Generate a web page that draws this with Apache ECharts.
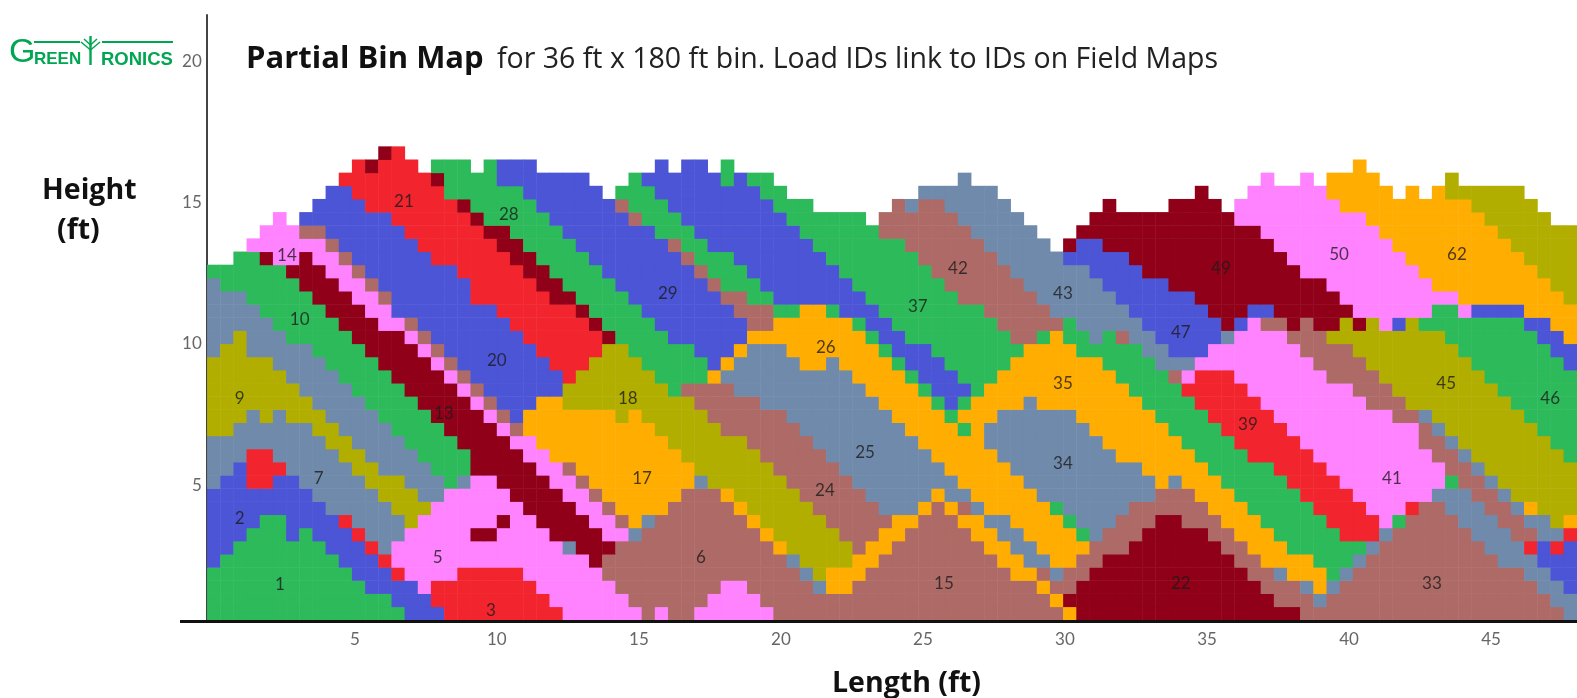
<!DOCTYPE html>
<html><head><meta charset="utf-8">
<style>html,body{margin:0;padding:0;background:#fff}#c{width:1577px;height:698px}</style>
<script src="https://cdn.jsdelivr.net/npm/echarts@6/dist/echarts.min.js"></script>
</head><body><div id="c"></div>
<script>
// cell fill codes
const codes = ['g','b','r','d','p','s','o','a','m'];
const colors = ['#2DBA5A','#4B55D6','#F2252F','#900018','#FF82FF','#708AAB','#B2AE00','#FFAD00','#AE6A66'];
const columnCount = 104, rowCount = 46;
// bin cells, bottom row first: each token = fill code + first column of the run
const binRows = [
"g0 b15 r18 p27 m33 p34 m35 p37 m43 a65 d66 m83 s103",
"g0 b14 r17 p26 m32 p38 m42 a64 d65 m81 s84 m85 s102",
"g0 b12 p16 r17 p25 m31 p39 m41 s46 a47 m49 a63 m64 d66 m80 s83 a84 s85 m86 s101 b103",
"g0 b11 r14 p15 r19 p24 m30 s45 o46 a47 m50 a61 m63 s64 m65 d67 m79 s81 a82 g85 s86 m87 s100 b102",
"b0 g1 b10 r13 p14 d29 m30 s44 o45 a49 m51 a60 s62 a64 m66 d68 m78 a80 g84 s87 m88 s98 b101",
"b0 g2 b9 r12 s13 p14 s27 d28 m31 a43 o44 m49 a50 m52 a59 s61 a63 m67 d70 m77 a79 g82 s88 m89 s97 r100 b101 r102 b103",
"b0 g3 b6 g7 b8 r11 s12 p15 d20 p22 d26 p30 s32 m33 a42 o43 m48 a51 m53 a58 s60 a62 g66 s67 m68 d71 m76 a78 g81 r86 s89 m90 s96 m99 s101 r103",
"b0 g4 b6 r10 s11 o15 p16 d22 p23 d25 p29 m31 a32 s33 m34 a41 o42 m47 a52 m54 a57 s59 a61 g65 s66 m69 d72 m74 a77 g80 r85 p89 g90 m91 s95 m98 s100 o102 a103",
"b0 s9 o14 p17 d24 p28 m30 a31 m35 a40 o41 m46 s51 a54 m55 a56 m57 s58 a59 g64 s65 m70 a76 g79 r84 p88 r91 m92 s94 m97 s99 a100 o101",
"b0 s8 o13 s16 p18 d23 p27 m29 a30 m36 a39 o40 m45 s50 a55 s56 a58 s63 m72 a75 g78 r83 p87 s93 m96 s98 o99",
"s0 b1 r3 b5 s7 o12 s15 g18 s19 p20 d22 p26 m28 a29 s37 o38 m44 s49 a57 s62 a72 s73 a74 g77 r82 p86 g94 m95 s97 o98",
"s0 b2 r3 s6 o11 s13 g17 d20 p25 m27 a28 o37 m43 s48 a56 s61 a71 g76 r81 p85 m94 s96 o97",
"s0 r3 s5 o10 s12 g16 d20 p24 a26 o36 m42 s47 a55 s60 a69 g75 r79 p84 m93 s95 o96 g103",
"s0 o9 s11 g15 d19 p23 a25 o35 m41 s46 a54 s59 a68 g74 r78 p83 m92 s94 o95 g102",
"o0 s2 o8 s10 g14 d18 p22 m23 a24 o34 m39 s45 a53 g57 a58 s59 a67 g73 r77 p82 m92 s93 o94 g101",
"o0 s3 o4 s5 o6 s9 g13 d17 p21 m22 b23 a24 o31 a32 o33 m38 s44 a52 g56 a57 s60 a66 g72 r76 p81 m90 s92 o93 g100",
"o0 s8 g12 d16 p20 m21 b22 a25 o27 m37 s42 a51 g55 b56 g57 a58 s62 a63 g71 r75 p80 m88 o91 g99",
"o0 s7 g11 d15 p19 m20 b21 o27 g35 m36 s40 a50 g54 b55 g58 a59 g70 r74 p79 m87 o90 g98",
"o0 s6 g10 d14 p18 m19 b20 r27 o28 g34 a38 s39 a49 g53 b54 g57 a60 g69 m73 p74 r75 p78 m85 o89 g97",
"o0 s5 g9 d13 p17 m18 b19 r26 o29 g33 b38 a39 s40 a45 s47 a48 g52 b53 g56 a61 g68 s72 p75 m84 o88 g96 b103",
"s0 o1 s3 g8 d12 p16 m17 b18 r25 o30 g32 b37 a40 s41 a44 g51 b52 g55 a62 g66 s71 b73 p76 m83 o87 g95 b102",
"s0 o2 s3 g6 d11 p15 m16 b17 r24 d30 g31 b35 a41 g50 b51 g53 m61 g63 a64 g65 s67 g68 m69 s70 b72 s77 p78 m82 o85 g94 b101 a103",
"s0 g5 d10 p13 m15 b16 r23 d29 g30 b34 m41 a43 g49 b50 g52 m60 g65 s66 b71 d77 b78 p79 m80 d82 m83 d84 o86 d87 o88 p89 b90 o91 g92 b100 a102",
"s0 g4 d9 p12 b14 r22 d28 g29 b33 m40 g43 a45 g47 b48 g51 m59 s64 b70 d76 b79 d81 p87 g93 p95 b96 a100",
"s0 g3 d8 p11 m13 b14 r20 d26 g28 b32 m39 g41 b43 g50 m57 s63 b69 d75 p86 a95 o103",
"s0 g1 d7 p10 m12 b13 r20 d25 g27 b31 m38 g39 b42 g49 m56 s62 b68 d73 p85 a93 o102",
"g0 d6 p9 m11 b12 r19 d24 g26 b30 m37 g38 b41 g48 m55 s61 b67 d71 p83 a92 o101",
".0 g2 d4 p5 d7 p8 m10 b11 r17 d23 g25 b29 m36 g37 b40 g47 m54 s60 b65 d70 p82 a91 o100",
".0 p3 m9 b10 r16 d22 g24 b28 m35 g36 b38 g46 m53 s59 .64 d65 b66 d68 p81 a90 o99",
".0 p4 m7 b9 r15 d21 g23 b27 g34 b37 g45 m51 s58 .63 d66 p80 a89 o98",
".0 p5 .6 b7 r14 d20 g21 b26 m32 g33 b36 g44 .50 m51 s57 .62 d67 p78 a88 o97 .102",
".0 b8 r12 d19 g20 b25 m31 g32 b35 g43 .46 m52 s53 m54 s56 .61 d68 .69 d73 .77 p78 a86 o96 .101",
".0 b9 r11 g18 b24 .30 g31 b34 g42 .44 s54 .60 d75 .76 p79 a85 .90 a91 .92 a93 o94 .100",
".0 r10 d17 g18 b22 .29 g32 b33 g39 b40 g41 .43 s57 .58 p80 .81 p83 .84 a85 .89 o94 .95",
".0 r11 d12 r13 .16 g17 .20 g21 b22 .25 b34 .35 b36 .38 g39 .40 a87 .88",
".0 d13 r14 .15"
];
// load ID labels: id, length (ft), height (ft)
const loadIds = [1,2,3,5,6,7,9,10,13,14,15,17,18,20,21,22,24,25,26,28,29,33,34,35,37,39,41,42,43,45,46,47,49,50,62];
const loadX = [2.36,0.95,9.79,7.92,17.18,3.73,0.95,3.06,8.13,2.61,25.74,15.11,14.61,10.0,6.73,34.08,21.55,22.96,21.58,10.42,16.02,42.92,29.93,29.93,24.82,36.44,41.51,26.23,29.93,43.42,47.08,34.08,35.49,39.65,43.8];
const loadY = [1.49,3.83,0.57,2.42,2.42,5.25,8.05,10.85,7.55,13.15,1.53,5.25,8.05,9.43,15.03,1.53,4.79,6.17,9.89,14.6,11.77,1.53,5.75,8.61,11.31,7.13,5.25,12.69,11.77,8.61,8.05,10.39,12.69,13.18,13.18];

const cells = [];
binRows.forEach((row, r) => {
  const runs = row.split(' ').map(t => [t[0], +t.slice(1)]);
  runs.forEach((run, i) => {
    if (run[0] === '.') return;
    const end = i + 1 < runs.length ? runs[i + 1][1] : columnCount;
    for (let c = run[1]; c < end; c++) cells.push([c, r, codes.indexOf(run[0])]);
  });
});
const labelData = loadIds.map((id, i) => [loadX[i], loadY[i], id]);
const bodyFont = 'Lato', headFont = '"Open Sans"';
const tickFmt = v => (v > 0 && v % 5 === 0) ? String(v) : '';
const green = '#00A651';
const headStyle = {fontFamily:headFont,fontWeight:'bold',fontSize:28.5,color:'#111'};

const chart = echarts.init(document.getElementById('c'), null, {renderer:'canvas', width:1577, height:698});
chart.setOption({
  animation:false,
  backgroundColor:'#fff',
  title:[
    {left:246, top:44, padding:0, text:'Partial Bin Map', textStyle:{fontFamily:headFont,fontWeight:'bold',fontSize:31,color:'#111'}},
    {left:497, top:45, padding:0, text:'for 36 ft x 180 ft bin. Load IDs link to IDs on Field Maps', textStyle:{fontFamily:headFont,fontWeight:'normal',fontSize:28.5,color:'#222'}},
    {left:42, top:176, padding:0, text:'Height', textStyle:headStyle},
    {left:57, top:216, padding:0, text:'(ft)', textStyle:headStyle},
    {left:832, top:669, padding:0, text:'Length (ft)', textStyle:headStyle}
  ],
  grid:[
    {left:207.3, top:15.1, width:1369.7, height:604.9},
    {left:212.8, top:14, width:1364.2, height:612.2}
  ],
  xAxis:[
    {type:'category', gridIndex:0, data:Array.from({length:columnCount},(_,i)=>i), show:false},
    {type:'value', gridIndex:1, min:0, max:47.92, interval:5, axisLine:{show:false}, axisTick:{show:false}, splitLine:{show:false},
     axisLabel:{formatter:tickFmt, color:'#666', fontFamily:bodyFont, fontSize:17, margin:5}}
  ],
  yAxis:[
    {type:'category', gridIndex:0, data:Array.from({length:rowCount},(_,i)=>i), offset:1,
     axisLine:{show:true, lineStyle:{color:'#444', width:2}}, axisTick:{show:false}, axisLabel:{show:false}, splitLine:{show:false}},
    {type:'value', gridIndex:1, min:0, max:21.69, interval:5, axisLine:{show:false}, axisTick:{show:false}, splitLine:{show:false},
     axisLabel:{formatter:tickFmt, color:'#666', fontFamily:bodyFont, fontSize:17, margin:11}}
  ],
  visualMap:{type:'piecewise', show:false, seriesIndex:0, dimension:2,
    pieces:colors.map((color,i)=>({value:i,color}))},
  series:[
    {type:'heatmap', xAxisIndex:0, yAxisIndex:0, data:cells, silent:true, itemStyle:{borderWidth:0}},
    {type:'scatter', xAxisIndex:1, yAxisIndex:1, data:labelData, silent:true, symbolSize:1, z:5,
     itemStyle:{color:'transparent'},
     label:{show:true, position:'inside', formatter:p=>String(p.value[2]), color:'#1c1c1c', fontFamily:bodyFont, fontSize:17}}
  ],
  graphic:[
    {type:'rect', z:20, shape:{x:180, y:620, width:1397, height:3}, style:{fill:'#111'}},
    {type:'group', z:20, children:[
      {type:'line', shape:{x1:34,y1:42,x2:80,y2:42}, style:{stroke:green,lineWidth:2}},
      {type:'line', shape:{x1:102,y1:42,x2:173,y2:42}, style:{stroke:green,lineWidth:2}},
      {type:'line', shape:{x1:90.5,y1:36,x2:90.5,y2:65}, style:{stroke:green,lineWidth:2.4}},
      {type:'line', shape:{x1:81,y1:42,x2:90.5,y2:50}, style:{stroke:green,lineWidth:1.5}},
      {type:'line', shape:{x1:100,y1:42,x2:90.5,y2:50}, style:{stroke:green,lineWidth:1.5}},
      {type:'line', shape:{x1:84,y1:39,x2:90.5,y2:45}, style:{stroke:green,lineWidth:1.5}},
      {type:'line', shape:{x1:97,y1:39,x2:90.5,y2:45}, style:{stroke:green,lineWidth:1.5}},
      {type:'text', style:{x:9, y:36, text:'G', font:'34px "Liberation Sans"', fill:green}},
      {type:'text', style:{x:34, y:51, text:'REEN', font:'bold 17px "Liberation Sans"', fill:green}},
      {type:'text', style:{x:101, y:50, text:'RONICS', font:'bold 18.5px "Liberation Sans"', fill:green}}
    ]}
  ]
});
</script></body></html>
